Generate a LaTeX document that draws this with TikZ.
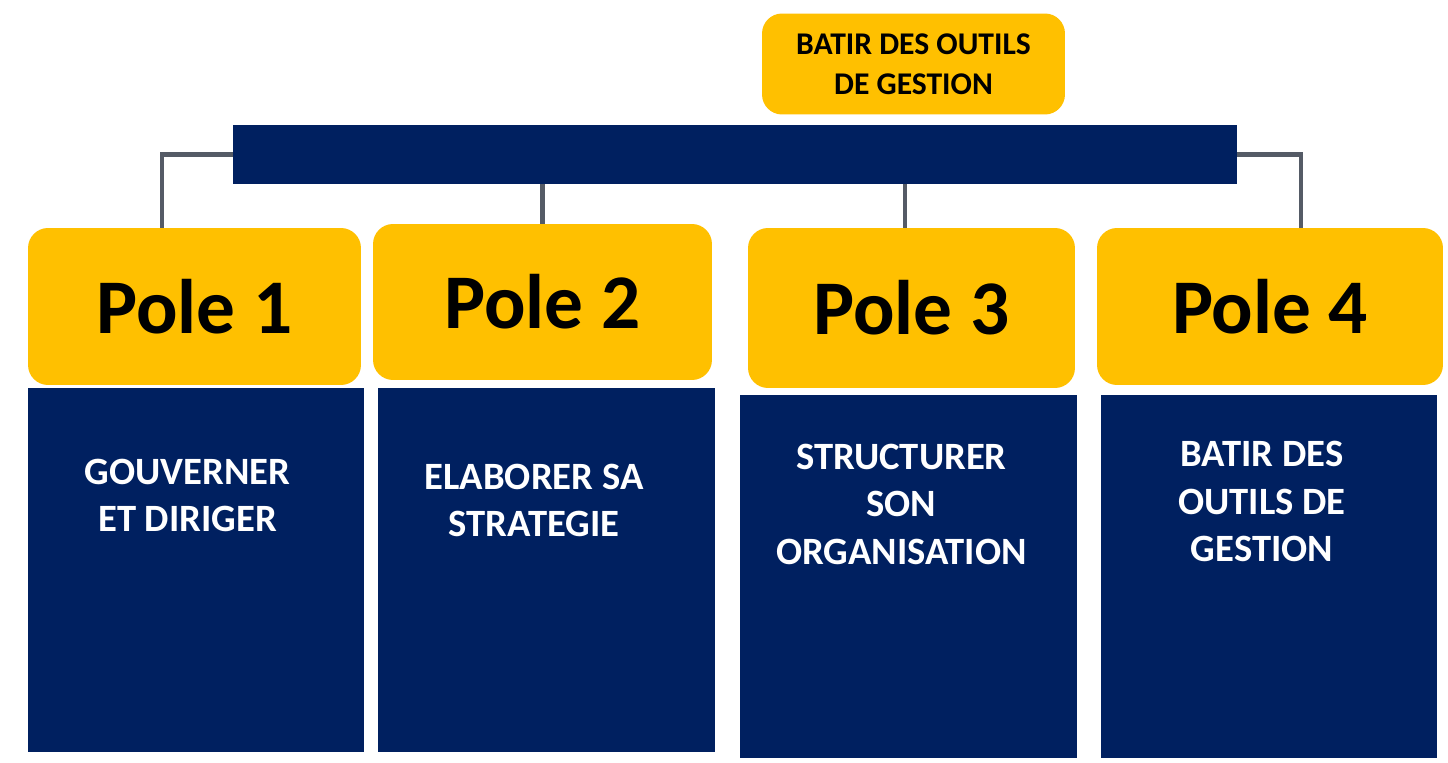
\documentclass[tikz,border=0pt]{standalone}
\usepackage{fontspec}
\setmainfont{Carlito}
\usepackage{tikz}
\usetikzlibrary{calc}
\definecolor{jaune}{HTML}{FFC000}
\definecolor{marine}{HTML}{002060}
\definecolor{trait}{HTML}{555B66}
\tikzset{
	titre/.style={fill=jaune, rounded corners=0.4cm, font=\bfseries\fontsize{44}{50}\selectfont, text=black},
	bloc/.style={fill=marine, inner sep=0pt},
	texte/.style={text=white, align=center, anchor=north, inner sep=0pt, font=\bfseries\fontsize{22}{27}\selectfont},
	lien/.style={draw=trait, line width=2.3pt}
}

\begin{document}
\begin{tikzpicture}[x=0.02cm, y=-0.02cm]
			%%%%% START %%%%%
			\useasboundingbox[fill=white] (0, 0) rectangle (1448, 763);
			
			\node[titre, minimum width=6.06cm, minimum height=2.02cm, align=center, font=\bfseries\fontsize{18}{23}\selectfont] (outils) at (913.5, 64) {BATIR DES OUTILS\\DE GESTION};
			\node[bloc, minimum width=20.08cm, minimum height=1.18cm] (barre) at (735, 154.5) {};
			
			\node[titre, minimum width=6.66cm, minimum height=3.14cm] (p1) at (194.5, 306.5) {Pole 1};
			\node[titre, minimum width=6.78cm, minimum height=3.12cm] (p2) at (542.5, 302) {Pole 2};
			\node[titre, minimum width=6.54cm, minimum height=3.2cm] (p3) at (911.5, 308) {Pole 3};
			\node[titre, minimum width=6.92cm, minimum height=3.14cm] (p4) at (1270, 306.5) {Pole 4};
			
			\node[bloc, minimum width=6.72cm, minimum height=7.28cm] (b1) at (196, 570) {};
			\node[bloc, minimum width=6.74cm, minimum height=7.28cm] (b2) at (546.5, 570) {};
			\node[bloc, minimum width=6.74cm, minimum height=7.26cm] (b3) at (908.5, 576.5) {};
			\node[bloc, minimum width=6.72cm, minimum height=7.26cm] (b4) at (1269, 576.5) {};
			
			\node[texte] (t1) at ([xshift=-0.17cm, yshift=-1.42cm]b1.north) {GOUVERNER\\ET DIRIGER};
			\node[texte] (t2) at ([xshift=-0.25cm, yshift=-1.52cm]b2.north) {ELABORER SA\\STRATEGIE};
			\node[texte] (t3) at ([xshift=-0.14cm, yshift=-0.98cm]b3.north) {STRUCTURER\\SON\\ORGANISATION};
			\node[texte] (t4) at ([xshift=-0.14cm, yshift=-0.93cm]b4.north) {BATIR DES\\OUTILS DE\\GESTION};
			
			% liaisons
			\draw[lien] (barre.west) -| ([xshift=-0.65cm]p1.north);
			\draw[lien] (barre.east) -| ([xshift=0.62cm]p4.north);
			\draw[lien] (barre.south -| p2.north) -- (p2.north);
			\draw[lien] ([xshift=-0.13cm]barre.south -| p3.north) -- ([xshift=-0.13cm]p3.north);
			
			%%%%% END %%%%%
		\end{tikzpicture}
\end{document}
